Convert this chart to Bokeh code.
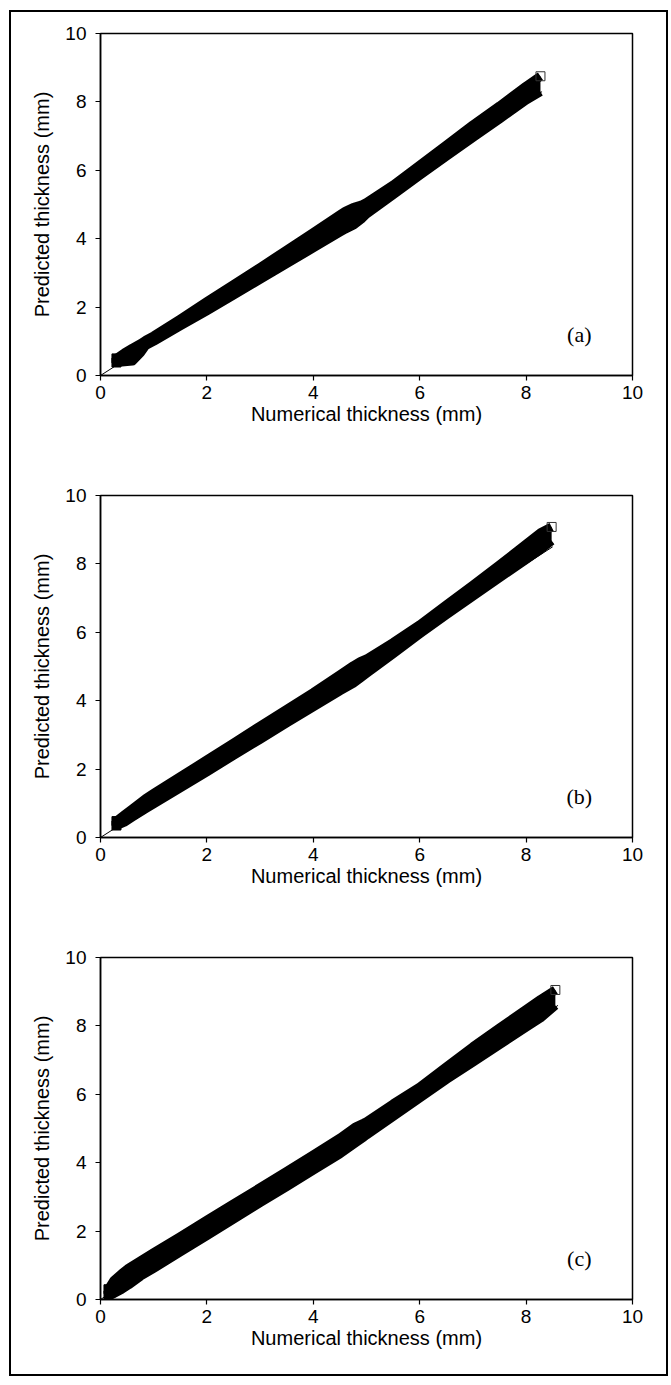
from bokeh.plotting import figure
from bokeh.layouts import column
from bokeh.models import Range1d, Label, FixedTicker
from bokeh.embed import file_html
from bokeh.resources import INLINE

# ---- data (marker-centre envelope of the dense scatter) ----
ticks = [0, 2, 4, 6, 8, 10]
panel_labels = ["(a)", "(b)", "(c)"]
line_end = [8.3, 8.5, 8.6]

xa = [0.30, 0.45, 0.60, 0.75, 0.85, 1.0, 1.5, 2.0, 2.5, 3.0, 3.5, 4.0, 4.5, 4.6, 4.76, 4.9, 5.0, 5.5, 6.0, 6.5, 7.0, 7.5, 8.0, 8.27]
up_a = [0.50, 0.66, 0.80, 0.93, 1.03, 1.16, 1.65, 2.16, 2.66, 3.16, 3.67, 4.18, 4.70, 4.80, 4.92, 4.98, 5.06, 5.57, 6.15, 6.74, 7.33, 7.88, 8.46, 8.75]
lo_a = [0.38, 0.40, 0.42, 0.66, 0.88, 1.00, 1.45, 1.89, 2.35, 2.81, 3.27, 3.73, 4.19, 4.28, 4.40, 4.57, 4.72, 5.28, 5.85, 6.41, 6.96, 7.50, 8.05, 8.30]

xb = [0.30, 0.45, 0.60, 0.85, 1.0, 1.5, 2.0, 2.5, 3.0, 3.5, 4.0, 4.5, 4.75, 4.89, 5.0, 5.5, 6.0, 6.5, 7.0, 7.5, 8.0, 8.27, 8.48]
up_b = [0.48, 0.66, 0.84, 1.14, 1.29, 1.78, 2.27, 2.76, 3.26, 3.75, 4.24, 4.76, 5.02, 5.15, 5.22, 5.70, 6.22, 6.80, 7.38, 7.97, 8.58, 8.91, 9.08]
lo_b = [0.35, 0.45, 0.60, 0.84, 0.98, 1.45, 1.92, 2.40, 2.87, 3.35, 3.82, 4.29, 4.51, 4.67, 4.80, 5.37, 5.95, 6.51, 7.05, 7.59, 8.13, 8.42, 8.68]

xc = [0.15, 0.25, 0.40, 0.53, 0.75, 1.0, 1.5, 2.0, 2.5, 3.0, 3.5, 4.0, 4.5, 4.8, 4.95, 5.0, 5.5, 6.0, 6.5, 7.0, 7.5, 8.0, 8.27, 8.55]
up_c = [0.30, 0.55, 0.76, 0.92, 1.13, 1.37, 1.84, 2.32, 2.80, 3.27, 3.75, 4.23, 4.72, 5.05, 5.16, 5.20, 5.72, 6.21, 6.80, 7.39, 7.94, 8.48, 8.77, 9.05]
lo_c = [0.12, 0.17, 0.30, 0.43, 0.68, 0.91, 1.39, 1.87, 2.35, 2.83, 3.30, 3.78, 4.26, 4.59, 4.75, 4.81, 5.35, 5.89, 6.43, 6.94, 7.45, 7.96, 8.23, 8.60]

panels = [(xa, lo_a, up_a), (xb, lo_b, up_b), (xc, lo_c, up_c)]

FONT = "Liberation Sans"


def make_panel(i, xs, lo, up, bottom):
    p = figure(width=655, height=21 + 342 + bottom,
               x_range=Range1d(0, 10), y_range=Range1d(0, 10),
               output_backend="svg", toolbar_location=None,
               min_border_left=89, min_border_right=34,
               min_border_top=21, min_border_bottom=bottom)
    p.grid.visible = False
    p.outline_line_color = "black"
    p.outline_line_width = 1.5
    p.background_fill_color = "white"
    p.border_fill_color = "white"
    for ax in (p.xaxis[0], p.yaxis[0]):
        ax.ticker = FixedTicker(ticks=ticks)
        ax.minor_tick_line_color = None
        ax.major_tick_in = 0
        ax.major_tick_out = 5
        ax.axis_line_color = "black"
        ax.axis_line_width = 1.5
        ax.major_tick_line_color = "black"
        ax.major_tick_line_width = 1.2
        ax.major_label_text_font = FONT
        ax.major_label_text_font_size = "19px"
        ax.major_label_text_color = "black"
        ax.axis_label_text_font = FONT
        ax.axis_label_text_font_size = "20px"
        ax.axis_label_text_font_style = "normal"
        ax.axis_label_text_color = "black"
    p.xaxis.axis_label = "Numerical thickness (mm)"
    p.yaxis.axis_label = "Predicted thickness (mm)"
    p.xaxis.major_label_standoff = 5
    p.xaxis.axis_label_standoff = 1
    p.yaxis.major_label_standoff = 9
    p.yaxis.axis_label_standoff = 9

    # reference line y = x
    e = line_end[i]
    p.line([0, e], [0, e], line_color="black", line_width=1)

    # dense scatter of square markers, drawn as its envelope
    p.varea(x=xs, y1=lo, y2=up, fill_color="black")
    p.line(xs, up, line_color="black", line_width=9, line_join="round")
    p.line(xs, lo, line_color="black", line_width=9, line_join="round")
    p.scatter([xs[0], xs[0]], [lo[0], up[0]], marker="square", size=9,
              fill_color="black", line_color="black")
    p.scatter([xs[-1]], [up[-1]], marker="square", size=9,
              fill_alpha=0.0, line_color="#333333", line_width=1)

    p.add_layout(Label(x=9.0, y=1.2, text=panel_labels[i], text_font="Liberation Serif",
                       text_font_size="22px", text_align="center",
                       text_baseline="middle", text_color="black"))
    return p


figs = [make_panel(i, *panels[i], bottom=(99 if i < 2 else 75)) for i in range(3)]
layout = column(*figs, spacing=0,
                styles={"border": "2px solid black", "margin-left": "9px",
                        "margin-top": "10px", "background": "white"})
open("out.html", "w").write(file_html(layout, INLINE))
